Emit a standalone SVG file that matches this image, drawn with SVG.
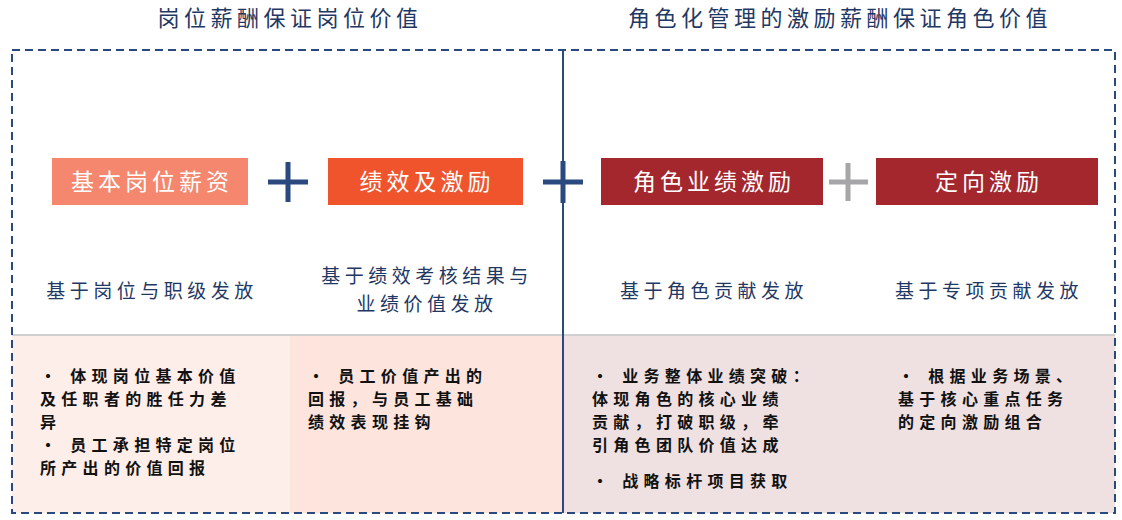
<svg xmlns="http://www.w3.org/2000/svg" width="1122" height="520" viewBox="0 0 1122 520">
<style>
text{font-family:"Noto Sans CJK SC","Noto Sans",sans-serif;}
.t{font-size:22px;fill:#1f3864;text-anchor:middle;letter-spacing:4.5px}
.b{font-size:23px;fill:#fff;text-anchor:middle;letter-spacing:4px}
.s{font-size:19px;fill:#1f3864;text-anchor:middle;letter-spacing:4.5px}
.d{font-size:16px;fill:#111;font-weight:bold;letter-spacing:5.3px}
.pl{stroke:#2a4a7f;stroke-width:5}
</style>
<rect width="1122" height="520" fill="#fff"/>
<g id="bg">
<rect x="12" y="335" width="278" height="178" fill="#fdeee9"/>
<rect x="290" y="335" width="273" height="178" fill="#fde5de"/>
<rect x="563" y="335" width="552" height="178" fill="#efe0e1"/>
<line x1="12" y1="335" x2="1115" y2="335" stroke="#cfcfcf" stroke-width="2"/>
</g>
<g id="frame">
<rect x="12" y="50" width="1103" height="463" fill="none" stroke="#2a4a7f" stroke-width="2" stroke-dasharray="8,5"/>
<line x1="563" y1="50" x2="563" y2="513" stroke="#2a4a7f" stroke-width="2"/>
</g>
<g id="titles">
<text class="t" x="290" y="26">岗位薪酬保证岗位价值</text>
<text class="t" x="840" y="26">角色化管理的激励薪酬保证角色价值</text>
</g>
<g id="n1"><rect x="52" y="158" width="196" height="47" fill="#f4876e"/><text class="b" x="152" y="190">基本岗位薪资</text></g>
<g id="n2"><rect x="328" y="158" width="195" height="47" fill="#f0542d"/><text class="b" x="427" y="190">绩效及激励</text></g>
<g id="n3"><rect x="601" y="158" width="222" height="47" fill="#a3272d"/><text class="b" x="714" y="190">角色业绩激励</text></g>
<g id="n4"><rect x="876" y="158" width="222" height="47" fill="#a3272d"/><text class="b" x="989" y="190">定向激励</text></g>
<g id="connectors">
<path class="pl" d="M268 182H308M288 162V202"/>
<path class="pl" d="M543 182H583M563 161V203" stroke-width="6"/>
<path d="M829 182H868M848 163V201" stroke="#a6a6a8" stroke-width="5"/>
</g>
<g id="subs">
<text class="s" x="152" y="298">基于岗位与职级发放</text>
<text class="s" x="427" y="283">基于绩效考核结果与</text>
<text class="s" x="427" y="311">业绩价值发放</text>
<text class="s" x="714" y="298">基于角色贡献发放</text>
<text class="s" x="989" y="298">基于专项贡献发放</text>
</g>
<g id="details">
<text class="d" x="40" y="382">• 体现岗位基本价值</text>
<text class="d" x="40" y="405">及任职者的胜任力差</text>
<text class="d" x="40" y="428">异</text>
<text class="d" x="40" y="451">• 员工承担特定岗位</text>
<text class="d" x="40" y="474">所产出的价值回报</text>
<text class="d" x="308" y="382">• 员工价值产出的</text>
<text class="d" x="308" y="405">回报，与员工基础</text>
<text class="d" x="308" y="428">绩效表现挂钩</text>
<text class="d" x="592" y="382">• 业务整体业绩突破：</text>
<text class="d" x="592" y="405">体现角色的核心业绩</text>
<text class="d" x="592" y="428">贡献，打破职级，牵</text>
<text class="d" x="592" y="451">引角色团队价值达成</text>
<text class="d" x="592" y="487">• 战略标杆项目获取</text>
<text class="d" x="898" y="382">• 根据业务场景、</text>
<text class="d" x="898" y="405">基于核心重点任务</text>
<text class="d" x="898" y="428">的定向激励组合</text>
</g>
</svg>
